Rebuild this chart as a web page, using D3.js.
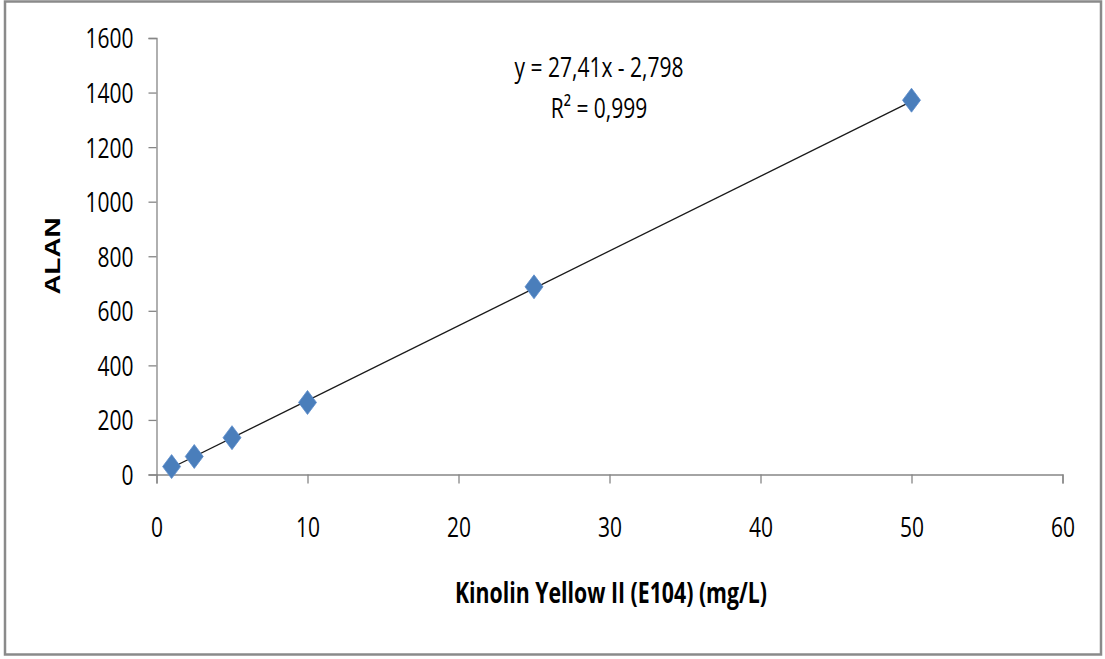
<!DOCTYPE html>
<html>
<head>
<meta charset="utf-8">
<script src="https://cdn.jsdelivr.net/npm/d3@7"></script>
<style>
  html, body { margin: 0; padding: 0; background: #fff; }
  svg { display: block; }
  .tick text { font-family: "Open Sans", sans-serif; font-size: 21px; fill: #000; }
</style>
</head>
<body>
<svg id="chart" width="1105" height="659"></svg>
<script>
// Calibration data: concentration (mg/L) vs. peak area
const concentrations = [1, 2.5, 5, 10, 25, 50];
const areas = [29, 66, 135, 264, 688, 1372];
const xTicks = [0, 10, 20, 30, 40, 50, 60];
const yTicks = [0, 200, 400, 600, 800, 1000, 1200, 1400, 1600];
const slope = 27.41;
const intercept = -2.798;
const equationLines = ["y = 27,41x - 2,798", "R² = 0,999"];
const xTitle = "Kinolin Yellow II  (E104) (mg/L)";
const yTitle = "ALAN";

const svg = d3.select("#chart");
const stretch = "scale(1,1.32)";   // tall, narrow lettering

// outer frame
svg.append("rect")
  .attr("x", 5).attr("y", 1.5).attr("width", 1096).attr("height", 653)
  .attr("fill", "#fff").attr("stroke", "#8a8a8a").attr("stroke-width", 2.5);

const x = d3.scaleLinear().domain([0, 60]).range([156.5, 1062.5]);
const y = d3.scaleLinear().domain([0, 1600]).range([474.5, 38]);

const axisColor = "#868686";

// y axis
const gy = svg.append("g").attr("transform", `translate(${x(0)},0)`)
  .call(d3.axisLeft(y).tickValues(yTicks).tickSize(8).tickPadding(15).tickFormat(d3.format("d")));
gy.select(".domain").attr("stroke", axisColor).attr("stroke-width", 1.3);
gy.selectAll(".tick line").attr("stroke", axisColor).attr("stroke-width", 1.3);
gy.selectAll(".tick text").attr("dy", "0.36em").attr("transform", stretch);

// x axis
const gx = svg.append("g").attr("transform", `translate(0,${y(0)})`)
  .call(d3.axisBottom(x).tickValues(xTicks).tickSize(9).tickFormat(d3.format("d")));
gx.select(".domain").attr("stroke", axisColor).attr("stroke-width", 1.3);
gx.selectAll(".tick line").attr("stroke", axisColor).attr("stroke-width", 1.3);
gx.selectAll(".tick text").attr("y", 39.5).attr("dy", "0.36em").attr("transform", stretch);

// linear trendline over the measured range
const xr = d3.extent(concentrations);
svg.append("line")
  .attr("x1", x(xr[0])).attr("y1", y(slope * xr[0] + intercept))
  .attr("x2", x(xr[1])).attr("y2", y(slope * xr[1] + intercept))
  .attr("stroke", "#1a1a1a").attr("stroke-width", 1.3);

// tall diamond marker
const tallDiamond = {
  draw(ctx, size) {
    const h = Math.sqrt(size) * 0.66, w = h * 0.75;
    ctx.moveTo(0, -h); ctx.lineTo(w, 0); ctx.lineTo(0, h); ctx.lineTo(-w, 0); ctx.closePath();
  }
};
const sym = d3.symbol().type(tallDiamond).size(330);
svg.append("g").selectAll("path")
  .data(concentrations.map((c, i) => [c, areas[i]]))
  .join("path")
  .attr("transform", d => `translate(${x(d[0])},${y(d[1])})`)
  .attr("d", sym)
  .attr("fill", "#4a7ebb")
  .attr("stroke", "#5b8ccb").attr("stroke-width", 0.8);

// regression equation
svg.append("g").selectAll("g")
  .data(equationLines)
  .join("g")
  .attr("transform", (d, i) => `translate(599,${77 + i * 41}) ${stretch}`)
  .append("text")
  .attr("text-anchor", "middle")
  .attr("font-family", "'Open Sans', sans-serif")
  .attr("font-size", 21)
  .text(d => d);

// axis titles
svg.append("g")
  .attr("transform", `translate(611,603) ${stretch}`)
  .append("text")
  .attr("text-anchor", "middle")
  .attr("font-family", "'Open Sans', sans-serif")
  .attr("font-weight", "bold")
  .attr("font-size", 21)
  .attr("textLength", 312)
  .attr("lengthAdjust", "spacingAndGlyphs")
  .text(xTitle);

svg.append("text")
  .attr("transform", "translate(60,256) rotate(-90)")
  .attr("text-anchor", "middle")
  .attr("font-family", "'Liberation Sans', Arial, sans-serif")
  .attr("font-weight", "bold")
  .attr("font-size", 22)
  .attr("textLength", 77)
  .attr("lengthAdjust", "spacingAndGlyphs")
  .text(yTitle);
</script>
</body>
</html>
